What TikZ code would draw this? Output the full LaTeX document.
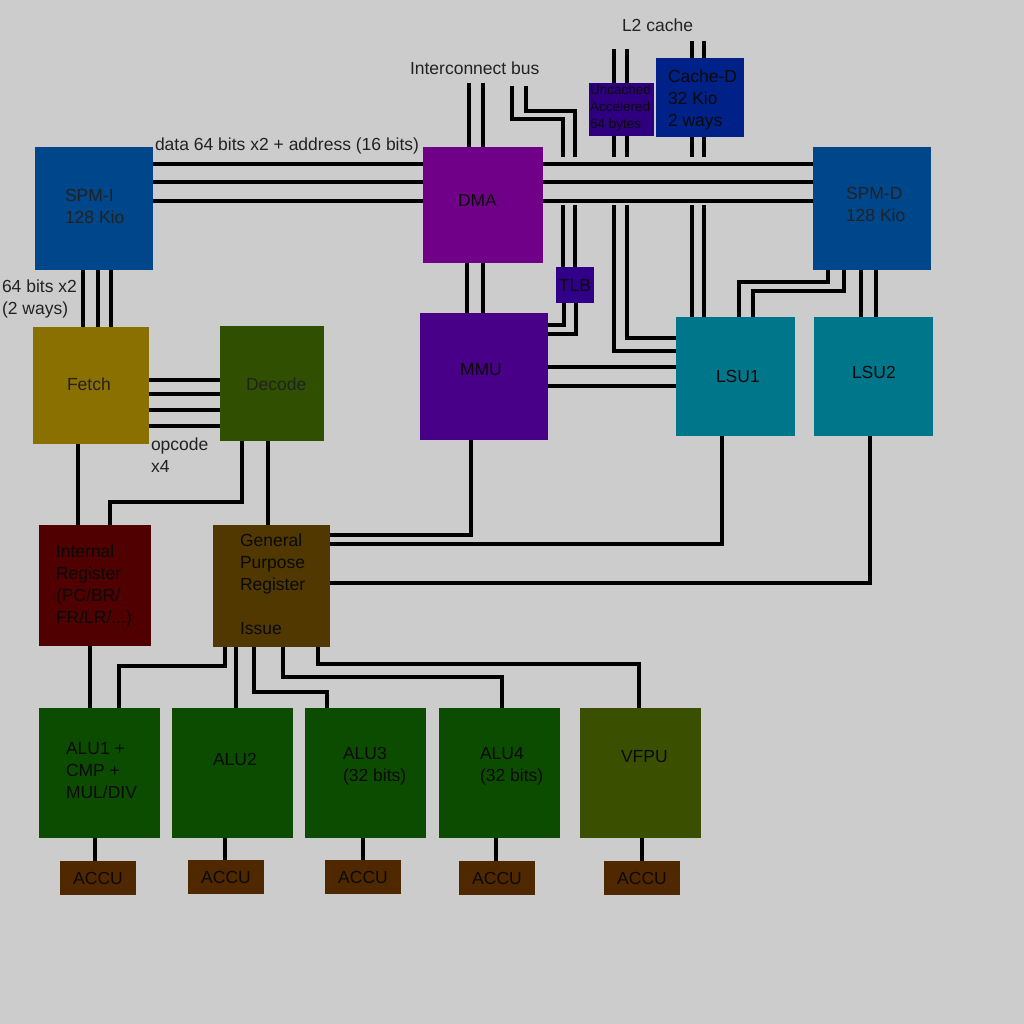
\documentclass[tikz,border=0pt]{standalone}
\usepackage{fontspec}
\setmainfont{Liberation Sans}
\definecolor{bg}{HTML}{CCCCCC}
\definecolor{txtc}{HTML}{222222}
\definecolor{txtb}{HTML}{0A0A0A}
\definecolor{cspm}{HTML}{00468A}
\definecolor{cdma}{HTML}{700088}
\definecolor{cmmu}{HTML}{480088}
\definecolor{ctlb}{HTML}{300088}
\definecolor{cunc}{HTML}{2E0080}
\definecolor{ccache}{HTML}{002288}
\definecolor{clsu}{HTML}{00768A}
\definecolor{cfetch}{HTML}{8A7000}
\definecolor{cdecode}{HTML}{305000}
\definecolor{cintreg}{HTML}{500000}
\definecolor{cgpr}{HTML}{503800}
\definecolor{calu}{HTML}{0C4C00}
\definecolor{cvfpu}{HTML}{3A5000}
\definecolor{caccu}{HTML}{502800}
\newcommand\lfont{\fontsize{17.5}{22}\selectfont}
\newcommand\sfont{\fontsize{13.5}{17}\selectfont}
\newcommand\blk[7]{\node[box, fill=#2, minimum width={(#5-#3)*1pt}, minimum height={(#6-#4)*1pt}] (#1) at ({(#3+#5)/2},{(#4+#6)/2}) {#7};}
\tikzset{
  box/.style={draw=none, inner sep=0pt, outer sep=0pt, text=txtb, font=\lfont},
  wire/.style={line width=3.1pt, line cap=butt, line join=miter, draw=black},
  lbl/.style={inner sep=0pt, outer sep=0pt, align=left, text=txtc, font=\lfont, anchor=west},
  ilbl/.style={lbl, text=txtb},
}
\begin{document}
\begin{tikzpicture}[x=1pt,y=-1pt]
\fill[bg] (0,0) rectangle (1024,1024);
\useasboundingbox (0,0) rectangle (1024,1024);

% boxes
\blk{spmi}{cspm}{35}{147}{153}{270}{}
\blk{dma}{cdma}{423}{147}{543}{263}{}
\blk{spmd}{cspm}{813}{147}{931}{270}{}
\blk{unc}{cunc}{589}{83}{654}{136}{}
\blk{cached}{ccache}{656}{58}{744}{137}{}
\blk{tlb}{ctlb}{556}{267}{594}{303}{TLB}
\blk{mmu}{cmmu}{420}{313}{548}{440}{}
\blk{lsu1}{clsu}{676}{317}{795}{436}{}
\blk{lsu2}{clsu}{814}{317}{933}{436}{}
\blk{fetch}{cfetch}{33}{327}{149}{444}{}
\blk{decode}{cdecode}{220}{326}{324}{441}{}
\blk{intreg}{cintreg}{39}{525}{151}{646}{}
\blk{gpr}{cgpr}{213}{525}{330}{647}{}
\blk{alu1}{calu}{39}{708}{160}{838}{}
\blk{alu2}{calu}{172}{708}{293}{838}{}
\blk{alu3}{calu}{305}{708}{426}{838}{}
\blk{alu4}{calu}{439}{708}{560}{838}{}
\blk{vfpu}{cvfpu}{580}{708}{701}{838}{}
\blk{accu1}{caccu}{60}{861}{136}{895}{ACCU}
\blk{accu2}{caccu}{188}{860}{264}{894}{ACCU}
\blk{accu3}{caccu}{325}{860}{401}{894}{ACCU}
\blk{accu4}{caccu}{459}{861}{535}{895}{ACCU}
\blk{accu5}{caccu}{604}{861}{680}{895}{ACCU}

% texts
\node[lbl] (tspmi) at (65,206) {SPM-I\\128 Kio};
\node[lbl] (tspmd) at (846,204) {SPM-D\\128 Kio};
\node[ilbl] (tdma) at (458,200) {DMA};
\node[ilbl] (tmmu) at (460,370) {MMU};
\node[ilbl] (tlsu1) at (716,376) {LSU1};
\node[ilbl] (tlsu2) at (852,372) {LSU2};
\node[lbl] (tfetch) at (67,384) {Fetch};
\node[lbl] (tdecode) at (246,384) {Decode};
\node[lbl] (topc) at (151,455) {opcode\\x4};
\node[ilbl] (tintreg) at (56,586) {Internal\\Register\\(PC/BR/\\FR/LR/...)};
\node[ilbl] (tgpr) at (240,584) {General\\Purpose\\Register\\[22pt]Issue};
\node[ilbl] (talu1) at (66,771) {ALU1 +\\CMP +\\MUL/DIV};
\node[ilbl] (talu2) at (213,759) {ALU2};
\node[ilbl] (talu3) at (343,766) {ALU3\\(32 bits)};
\node[ilbl] (talu4) at (480,766) {ALU4\\(32 bits)};
\node[ilbl] (tvfpu) at (621,757) {VFPU};
\node[ilbl] (tcache) at (668,99.5) {Cache-D\\32 Kio\\2 ways};
\node[ilbl, font=\sfont] (tunc) at (590,107.7) {Uncached\\Accelered\\64 bytes};
\node[lbl] (tib) at (410,68) {Interconnect bus};
\node[lbl] (tl2) at (622,25) {L2 cache};
\node[lbl] (tdata) at (155,146) {data 64 bits x2 + address (16 bits)};
\node[lbl] (t64) at (2,299) {64 bits x2\\(2 ways)};

% free ends
\coordinate (ibA) at (469,83);
\coordinate (ibB) at (483,83);
\coordinate (ibC) at (512,86);
\coordinate (ibD) at (526,86);
\coordinate (gC) at (563,157);
\coordinate (gD) at (575,157);
\coordinate (rC) at (563,205);
\coordinate (rD) at (575,205);
\coordinate (l2A) at (614,49);
\coordinate (l2B) at (627,49);
\coordinate (gE) at (614,157);
\coordinate (gF) at (627,157);
\coordinate (rE) at (614,205);
\coordinate (rF) at (627,205);
\coordinate (l2C) at (692,41);
\coordinate (l2D) at (704,41);
\coordinate (gG) at (692,157);
\coordinate (gH) at (704,157);
\coordinate (rG) at (692,205);
\coordinate (rH) at (704,205);

% buses SPM-I / DMA / SPM-D
\foreach \yy in {164,182,201}{
  \draw[wire] (spmi.east |- 0,\yy) -- (dma.west |- 0,\yy);
  \draw[wire] (dma.east |- 0,\yy) -- (spmd.west |- 0,\yy);
}
% interconnect bus
\draw[wire] (ibA) -- (dma.north -| ibA);
\draw[wire] (ibB) -- (dma.north -| ibB);
\draw[wire] (ibC) -- (512,119) -- (563,119) -- (gC);
\draw[wire] (ibD) -- (526,111) -- (575,111) -- (gD);
\draw[wire] (rC) -- (tlb.north -| rC);
\draw[wire] (rD) -- (tlb.north -| rD);
\draw[wire] (tlb.south -| 564,0) |- (mmu.east |- 0,325);
\draw[wire] (tlb.south -| 576,0) |- (mmu.east |- 0,334);
% DMA - MMU
\draw[wire] (dma.south -| 467,0) -- (mmu.north -| 467,0);
\draw[wire] (dma.south -| 483,0) -- (mmu.north -| 483,0);
% L2 / uncached
\draw[wire] (l2A) -- (unc.north -| l2A);
\draw[wire] (l2B) -- (unc.north -| l2B);
\draw[wire] (unc.south -| gE) -- (gE);
\draw[wire] (unc.south -| gF) -- (gF);
\draw[wire] (rE) |- (lsu1.west |- 0,351);
\draw[wire] (rF) |- (lsu1.west |- 0,338);
% L2 / cache-D
\draw[wire] (l2C) -- (cached.north -| l2C);
\draw[wire] (l2D) -- (cached.north -| l2D);
\draw[wire] (cached.south -| gG) -- (gG);
\draw[wire] (cached.south -| gH) -- (gH);
\draw[wire] (rG) -- (lsu1.north -| rG);
\draw[wire] (rH) -- (lsu1.north -| rH);
% SPM-D - LSU
\draw[wire] (spmd.south -| 828,0) -- (828,282) -| (lsu1.north -| 739,0);
\draw[wire] (spmd.south -| 844,0) -- (844,291) -| (lsu1.north -| 753,0);
\draw[wire] (spmd.south -| 861,0) -- (lsu2.north -| 861,0);
\draw[wire] (spmd.south -| 876,0) -- (lsu2.north -| 876,0);
% MMU - LSU1
\draw[wire] (mmu.east |- 0,367) -- (lsu1.west |- 0,367);
\draw[wire] (mmu.east |- 0,386) -- (lsu1.west |- 0,386);
% SPM-I - Fetch
\foreach \xx in {83,98,111}{
  \draw[wire] (spmi.south -| \xx,0) -- (fetch.north -| \xx,0);
}
% Fetch - Decode
\foreach \yy in {380,394,410,426}{
  \draw[wire] (fetch.east |- 0,\yy) -- (decode.west |- 0,\yy);
}
% to registers
\draw[wire] (fetch.south -| 78,0) -- (intreg.north -| 78,0);
\draw[wire] (decode.south -| 242,0) -- (242,502) -| (intreg.north -| 110,0);
\draw[wire] (decode.south -| 268,0) -- (gpr.north -| 268,0);
\draw[wire] (mmu.south -| 471,0) |- (gpr.east |- 0,535);
\draw[wire] (lsu1.south -| 722,0) |- (gpr.east |- 0,544);
\draw[wire] (lsu2.south -| 870,0) |- (gpr.east |- 0,583);
% to ALUs
\draw[wire] (intreg.south -| 90,0) -- (alu1.north -| 90,0);
\draw[wire] (gpr.south -| 225,0) -- (225,666) -| (alu1.north -| 119,0);
\draw[wire] (gpr.south -| 236,0) -- (alu2.north -| 236,0);
\draw[wire] (gpr.south -| 254,0) -- (254,692) -| (alu3.north -| 327,0);
\draw[wire] (gpr.south -| 283,0) -- (283,677) -| (alu4.north -| 502,0);
\draw[wire] (gpr.south -| 318,0) -- (318,664) -| (vfpu.north -| 639,0);
% ALU - ACCU
\draw[wire] (alu1.south -| 95,0) -- (accu1.north -| 95,0);
\draw[wire] (alu2.south -| 225,0) -- (accu2.north -| 225,0);
\draw[wire] (alu3.south -| 363,0) -- (accu3.north -| 363,0);
\draw[wire] (alu4.south -| 496,0) -- (accu4.north -| 496,0);
\draw[wire] (vfpu.south -| 642,0) -- (accu5.north -| 642,0);
\end{tikzpicture}
\end{document}
